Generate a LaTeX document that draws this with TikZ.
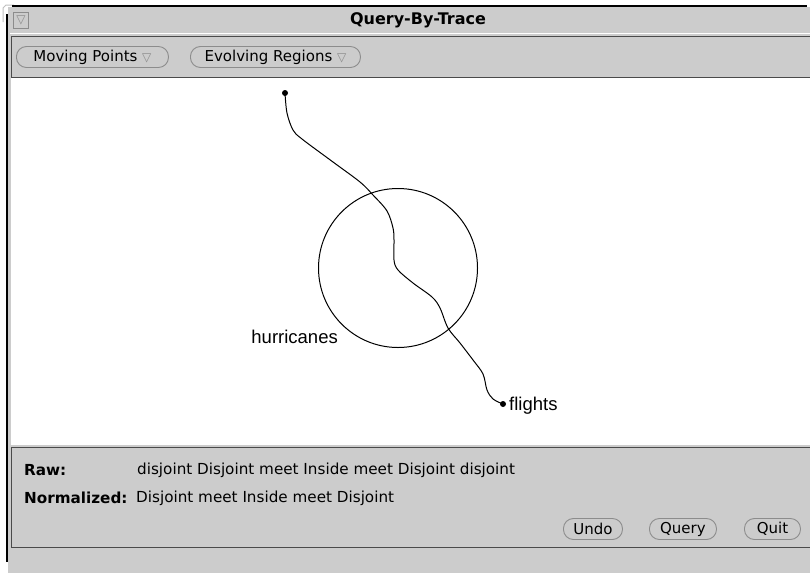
\documentclass[tikz,border=0pt]{standalone}
\usepackage{fontspec}
\setmainfont{DejaVu Sans}
\newfontfamily\guifont{DejaVu Sans}
\newfontfamily\canvasfont{Liberation Sans}
\definecolor{wingray}{HTML}{CCCCCC}
\definecolor{winedge}{HTML}{4A4A4A}
\definecolor{btnedge}{HTML}{8C8C8C}
\tikzset{
  guibtn/.style = {draw=btnedge, line width=0.9pt, fill=wingray, rounded corners=10pt,
                   minimum height=21pt, inner sep=0pt, anchor=west,
                   font=\guifont\fontsize{15}{17}\selectfont},
  guitext/.style = {anchor=west, inner sep=0pt, font=\guifont\fontsize{15.2}{17}\selectfont},
  guibold/.style = {anchor=west, inner sep=0pt, font=\guifont\bfseries\fontsize{15.2}{17}\selectfont},
  canvaslabel/.style = {inner sep=0pt, font=\canvasfont\fontsize{18.5}{21}\selectfont},
  tracedot/.style = {circle, fill=black, inner sep=0pt, minimum size=6pt}
}
\newcommand{\menutri}{\textcolor{black!45}{\fontsize{12}{12}\selectfont ▽}}
\begin{document}
\begin{tikzpicture}[x=1pt, y=-1pt]
\useasboundingbox (0,0) rectangle (810,573);
\fill[white] (0,0) rectangle (810,573);
\fill[wingray] (8,7) rectangle (810,573);
\draw[black!25, line width=1pt] (3,22) -- (3,8) -- (6,5) -- (14,5);
\draw[line width=2.5pt] (12,6) -- (807,6);
\draw[line width=2.5pt] (7,14) -- (7,562);
\draw[white, line width=1pt] (10,33) -- (810,33);
\node[draw=btnedge, fill=wingray, minimum width=15pt, minimum height=16pt, inner sep=0pt] (winmenu) at (21,20) {\menutri};
\node[font=\guifont\bfseries\fontsize{16}{18}\selectfont, inner sep=0pt] (title) at (418,20) {Query-By-Trace};
\draw[winedge, line width=1pt, fill=wingray] (11,36) rectangle (812,77);
\node[guibtn, minimum width=152pt] (movingbtn) at (16,57) {Moving Points \menutri};
\node[guibtn, minimum width=170pt] (regionbtn) at (190,57) {Evolving Regions \menutri};
\fill[white] (11,78) rectangle (810,445);
\draw[winedge, line width=1pt, fill=wingray] (11,447) rectangle (812,547);
\node[guibold] (rawkey) at (24,470) {Raw:};
\node[guitext] (rawval) at (137,470) {disjoint Disjoint meet Inside meet Disjoint disjoint};
\node[guibold] (normkey) at (24,498) {Normalized:};
\node[guitext] (normval) at (136,498) {Disjoint meet Inside meet Disjoint};
\node[guibtn, minimum width=59pt] (undobtn) at (563,529) {Undo};
\node[guibtn, minimum width=67pt] (querybtn) at (649,529) {Query};
\node[guibtn, minimum width=56pt] (quitbtn) at (744,529) {Quit};
\node[circle, draw, line width=1pt, minimum size=159pt, inner sep=0pt] (storm) at (398,268) {};
\node[canvaslabel, anchor=east] (stormlabel) at (338,337) {hurricanes};
\node[tracedot] (tracestart) at (285,93) {};
\node[tracedot] (traceend) at (503,404) {};
\node[canvaslabel, anchor=west] (tracelabel) at (509,406) {flights};
\draw[line width=1pt] plot[smooth, tension=0.55] coordinates {(tracestart) (287,113) (293,130) (302,139)
  (333,162) (360,182) (373,195) (387,211) (393,228) (394,240) (394,260) (398,270) (413,283)
  (432,297) (440,308) (448,328) (460,343) (473,360) (483,374) (487,390) (493,399) (traceend)};
\end{tikzpicture}
\end{document}
